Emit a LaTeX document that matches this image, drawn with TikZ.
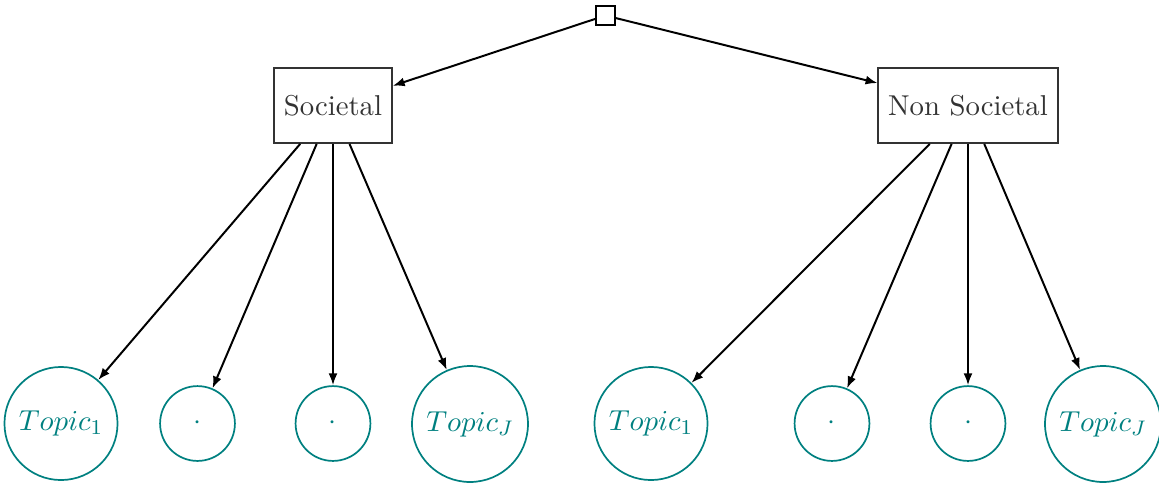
\documentclass[tikz,border=0pt]{standalone}
\usepackage{amsmath,amssymb}
\usepackage{tikz}
\usetikzlibrary{arrows.meta}
\definecolor{topicteal}{RGB}{0,128,128}
\tikzset{catbox/.style={draw=black!80,text=black!80,line width=0.75pt,
    minimum height=28.4pt,inner xsep=3.7pt}}
\tikzset{topic/.style={circle,draw=topicteal,text=topicteal,line width=0.65pt,
    inner sep=0pt,minimum size=#1}}
\tikzset{link/.style={-{Latex[length=4.5pt,width=3.4pt]},line width=0.75pt}}

\begin{document}
\begin{tikzpicture}[x=0.01333cm,y=-0.01333cm,font=\fontsize{10.9}{13}\selectfont]
                \useasboundingbox (0,0) rectangle (1159,482);

                % Root
                \node[draw,line width=0.75pt,minimum size=7.2pt,inner sep=0pt] (root) at (605.5,15.5) {};

                % Categories
                \node[catbox] (soc) at (333,105.5) {Societal};
                \node[catbox] (nonsoc) at (968,105.5) {Non Societal};

                % Topics, societal
                \node[topic=42.9pt] (s1) at (61,423.5) {$Topic_1$};
                \node[topic=28.4pt] (s2) at (197.5,423.5) {$\cdot$};
                \node[topic=28.4pt] (s3) at (333,423.5) {$\cdot$};
                \node[topic=44pt] (sJ) at (470,424) {$Topic_J$};

                % Topics, non societal
                \node[topic=42.9pt] (n1) at (651,423.5) {$Topic_1$};
                \node[topic=28.4pt] (n2) at (832,423.5) {$\cdot$};
                \node[topic=28.4pt] (n3) at (968,423.5) {$\cdot$};
                \node[topic=44pt] (nJ) at (1103,424) {$Topic_J$};

                % Arrows
                \draw[link] (root) -- (soc);
                \draw[link] (root) -- (nonsoc);
                \foreach \t in {s1,s2,s3,sJ}
                    \draw[link] (soc) -- (\t);
                \foreach \t in {n1,n2,n3,nJ}
                    \draw[link] (nonsoc) -- (\t);
            \end{tikzpicture}
\end{document}
